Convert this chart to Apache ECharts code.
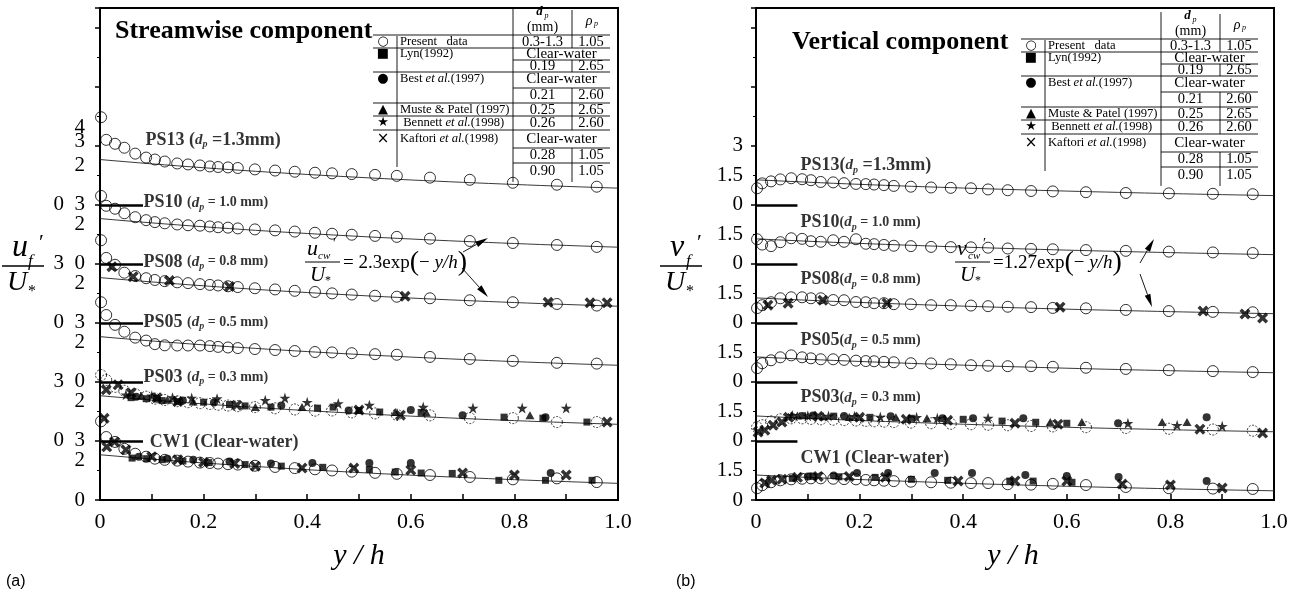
<!DOCTYPE html>
<html>
<head>
<meta charset="utf-8">
<script src="https://cdn.jsdelivr.net/npm/echarts@6/dist/echarts.min.js"></script>
<style>
html,body{margin:0;padding:0;background:#fff}
#c{width:1299px;height:594px}
</style>
</head>
<body>
<div id="c"></div>
<script>
// ---------------- data ----------------
// measurement positions of the present data (y/h)
const yh = [0.002,0.012,0.029,0.047,0.068,0.089,0.106,0.125,0.149,0.170,0.193,0.212,0.228,0.247,0.266,0.299,0.338,0.376,0.415,0.448,0.486,0.531,0.573,0.637,0.714,0.797,0.882,0.959];

// profiles, bottom to top, and the vertical shift each one is drawn with
const profiles = ['CW1','PS03','PS05','PS08','PS10','PS13'];
const profileOffset = [0,3,6,9,12,15];

// streamwise turbulence intensity u_f'/U* (present data)
const uCW1  = [4.00,3.20,2.95,2.60,2.35,2.20,2.10,2.04,2.00,1.95,1.90,1.88,1.85,1.82,1.80,1.74,1.68,1.62,1.56,1.50,1.44,1.38,1.33,1.27,1.17,1.05,1.10,0.91];
const uPS03 = [3.35,3.10,2.75,2.55,2.38,2.25,2.15,2.08,2.02,1.97,1.92,1.88,1.84,1.80,1.77,1.72,1.66,1.60,1.54,1.55,1.45,1.40,1.33,1.30,1.16,1.16,0.96,0.96];
const uPS05 = [4.05,3.40,2.90,2.55,2.25,2.10,1.92,1.86,1.85,1.85,1.85,1.82,1.78,1.75,1.72,1.67,1.62,1.57,1.52,1.50,1.46,1.41,1.38,1.27,1.17,1.07,0.97,0.93];
const uPS08 = [4.20,3.30,2.95,2.55,2.38,2.27,2.18,2.12,2.06,2.02,1.97,1.93,1.90,1.86,1.82,1.76,1.70,1.63,1.57,1.50,1.44,1.38,1.33,1.25,1.15,1.05,0.96,0.88];
const uPS10 = [3.45,2.95,2.80,2.57,2.37,2.22,2.12,2.06,2.00,1.96,1.94,1.90,1.86,1.84,1.80,1.75,1.70,1.64,1.58,1.53,1.48,1.42,1.37,1.28,1.16,1.06,0.96,0.86];
const uPS13 = [4.45,3.30,3.10,2.90,2.60,2.40,2.30,2.20,2.10,2.05,2.00,1.95,1.92,1.90,1.87,1.80,1.74,1.68,1.63,1.60,1.56,1.52,1.47,1.38,1.27,1.12,1.02,0.92];

// streamwise, other data sets: [y/h, u'/U*]
const uCW1Lyn      = [[0.062,2.13],[0.09,2.10],[0.12,2.05],[0.16,1.98],[0.21,1.90],[0.28,1.80],[0.35,1.72],[0.43,1.66],[0.52,1.55],[0.57,1.42],[0.62,1.37],[0.68,1.35],[0.77,1.00],[0.86,1.00],[0.95,1.00]];
const uCW1Best     = [[0.075,2.20],[0.13,2.10],[0.18,2.05],[0.25,1.95],[0.33,1.85],[0.41,1.88],[0.52,1.88],[0.60,1.88],[0.87,1.37]];
const uCW1Kaftori  = [[0.008,4.15],[0.013,2.70],[0.028,2.95],[0.05,2.55],[0.10,2.20],[0.15,2.05],[0.20,1.92],[0.26,1.85],[0.30,1.72],[0.39,1.62],[0.49,1.62],[0.60,1.52],[0.70,1.37],[0.80,1.27],[0.90,1.27]];
const uPS03Lyn     = [[0.06,2.20],[0.09,2.15],[0.12,2.05],[0.15,2.00],[0.20,1.97],[0.25,1.85],[0.28,1.78],[0.33,1.72],[0.42,1.67],[0.45,1.72],[0.50,1.55],[0.54,1.47],[0.62,1.45],[0.78,1.21],[0.855,1.16],[0.94,0.96]];
const uPS03Best    = [[0.07,2.25],[0.11,2.15],[0.16,2.05],[0.22,1.95],[0.35,1.80],[0.48,1.55],[0.60,1.57],[0.70,1.31],[0.86,1.20]];
const uPS03Muste   = [[0.08,2.30],[0.13,2.10],[0.18,2.00],[0.30,1.72],[0.39,1.72],[0.57,1.47],[0.63,1.45],[0.83,1.31]];
const uPS03Bennett = [[0.05,2.35],[0.10,2.30],[0.14,2.20],[0.177,2.18],[0.226,2.15],[0.319,2.07],[0.357,2.18],[0.40,1.97],[0.46,1.90],[0.52,1.82],[0.624,1.72],[0.72,1.67],[0.815,1.67],[0.90,1.67]];
const uPS03Kaftori = [[0.012,2.60],[0.035,2.85],[0.06,2.45],[0.11,2.20],[0.15,2.00],[0.264,1.82],[0.50,1.57],[0.58,1.31],[0.979,0.96]];
const uPS08Kaftori = [[0.023,2.85],[0.064,2.35],[0.134,2.15],[0.25,1.85],[0.589,1.35],[0.865,1.05],[0.946,1.02],[0.979,1.02]];

// vertical turbulence intensity v_f'/U* (present data)
const vCW1  = [0.60,0.75,0.90,1.00,1.05,1.08,1.10,1.10,1.08,1.06,1.05,1.02,1.00,0.98,0.96,0.93,0.90,0.88,0.86,0.86,0.80,0.78,0.82,0.76,0.66,0.60,0.58,0.56];
const vPS03 = [0.70,0.80,1.00,1.10,1.15,1.15,1.12,1.10,1.08,1.06,1.04,1.02,1.00,0.98,0.96,0.93,0.90,0.87,0.85,0.82,0.80,0.76,0.74,0.70,0.66,0.62,0.58,0.52];
const vPS05 = [0.70,0.95,1.10,1.25,1.35,1.25,1.20,1.15,1.15,1.12,1.08,1.06,1.05,1.02,1.00,0.95,0.94,0.90,0.85,0.82,0.80,0.80,0.77,0.72,0.66,0.60,0.55,0.50];
const vPS08 = [0.75,0.90,1.05,1.25,1.30,1.30,1.25,1.25,1.16,1.15,1.06,1.05,1.00,1.00,0.95,0.95,0.90,0.90,0.88,0.85,0.82,0.80,0.76,0.74,0.66,0.60,0.56,0.54];
const vPS10 = [1.25,0.98,0.90,1.10,1.30,1.27,1.15,1.12,1.20,1.12,1.25,1.02,1.00,0.96,0.92,0.90,0.86,0.85,0.84,0.82,0.78,0.76,0.74,0.70,0.66,0.62,0.58,0.55];
const vPS13 = [0.84,1.09,1.19,1.29,1.35,1.30,1.25,1.16,1.14,1.10,1.06,1.05,1.03,1.00,0.96,0.92,0.88,0.86,0.84,0.78,0.74,0.70,0.68,0.64,0.60,0.58,0.56,0.54];

// vertical, other data sets: [y/h, v'/U*]
const vCW1Lyn      = [[0.07,1.10],[0.11,1.20],[0.16,1.18],[0.23,1.15],[0.30,1.05],[0.37,1.00],[0.49,0.96],[0.535,0.96],[0.61,0.90]];
const vCW1Best     = [[0.10,1.20],[0.15,1.25],[0.195,1.37],[0.255,1.37],[0.345,1.37],[0.417,1.37],[0.52,1.27],[0.60,1.22],[0.70,1.17],[0.87,0.96]];
const vCW1Kaftori  = [[0.017,0.86],[0.03,1.00],[0.05,1.05],[0.08,1.15],[0.12,1.20],[0.18,1.20],[0.25,1.15],[0.39,0.96],[0.50,0.97],[0.60,0.96],[0.707,0.81],[0.80,0.76],[0.90,0.61]];
const vPS03Lyn     = [[0.09,1.28],[0.15,1.26],[0.22,1.20],[0.30,1.15],[0.40,1.10],[0.475,1.01],[0.54,0.95],[0.60,0.90]];
const vPS03Best    = [[0.11,1.30],[0.17,1.27],[0.26,1.25],[0.36,1.15],[0.419,1.16],[0.516,1.16],[0.699,0.90],[0.87,1.20]];
const vPS03Muste   = [[0.08,1.30],[0.13,1.25],[0.18,1.22],[0.27,1.20],[0.33,1.15],[0.568,0.96],[0.629,0.96],[0.784,0.96],[0.832,0.96]];
const vPS03Bennett = [[0.07,1.30],[0.10,1.28],[0.14,1.27],[0.19,1.25],[0.24,1.22],[0.31,1.20],[0.35,1.15],[0.448,1.16],[0.718,0.90],[0.813,0.80],[0.90,0.75]];
const vPS03Kaftori = [[0.004,0.45],[0.017,0.55],[0.033,0.80],[0.05,0.96],[0.063,1.20],[0.12,1.25],[0.20,1.20],[0.29,1.10],[0.37,1.05],[0.50,0.90],[0.583,0.85],[0.857,0.60],[0.978,0.40]];
const vPS08Kaftori = [[0.023,0.90],[0.062,1.00],[0.129,1.15],[0.253,1.00],[0.587,0.80],[0.863,0.60],[0.944,0.45],[0.978,0.25]];

// fitted curves: u_cw'/U* = 2.3 exp(-y/h), v_cw'/U* = 1.27 exp(-y/h)
const fitCoefU = 2.3;
const fitCoefV = 1.27;

// y-axis tick labels (stacked profiles share one axis)
const yTickA = [0,2,3,5,6,8,9,11,12,14,15,17,18.55];
const yTickTextA = ['0','2','0\u20023','2','3\u20020','2','0\u20023','2','3\u20020','2','0\u20023','2','4\n3'];
const yTickB = [0,1.5,3,4.5,6,7.5,9,10.5,12,13.5,15,16.5,18];
const yTickTextB = ['0','1.5','0','1.5','0','1.5','0','1.5','0','1.5','0','1.5','3'];

// zero lines of the shifted profiles
const leaderLevels = [3,6,9,12,15];

// ---------------- styles & helpers ----------------
const SERIF = '"Liberation Serif","Times New Roman",serif';
const SANS = '"Liberation Sans",Arial,sans-serif';
const SYMF = '"DejaVu Sans",sans-serif';

const SYM = {
  lyn: 'rect',
  best: 'circle',
  muste: 'triangle',
  bennett: 'path://M5,0L6.18,3.62L10,3.62L6.91,5.86L8.09,9.5L5,7.26L1.91,9.5L3.09,5.86L0,3.62L3.82,3.62Z',
  kaftori: 'path://M2.2,0L5,2.8L7.8,0L10,2.2L7.2,5L10,7.8L7.8,10L5,7.2L2.2,10L0,7.8L2.8,5L0,2.2Z'
};
const SYMSIZE = {lyn: 7, best: 8, muste: [9, 8], bennett: 11, kaftori: 11};

const fitXs = [];
for (let i = 0; i <= 40; i++) fitXs.push(i / 40);

const labRich = {
  ps:  {fontFamily: SERIF, fontSize: 18, fontWeight: 'bold', color: '#000'},
  sm:  {fontFamily: SERIF, fontSize: 14, fontWeight: 'bold', color: '#000'},
  it:  {fontFamily: SERIF, fontSize: 15, fontWeight: 'bold', fontStyle: 'italic', color: '#000'},
  sub: {fontFamily: SERIF, fontSize: 10, fontWeight: 'bold', fontStyle: 'italic', color: '#000', padding: [9, 0, 0, 0]}
};

const profileLabelsA = [
  '{ps|PS13 (}{it|d}{sub|p}{ps| =1.3mm)}',
  '{ps|PS10 }{sm|(}{it|d}{sub|p}{sm| = 1.0 mm)}',
  '{ps|PS08 }{sm|(}{it|d}{sub|p}{sm| = 0.8 mm)}',
  '{ps|PS05 }{sm|(}{it|d}{sub|p}{sm| = 0.5 mm)}',
  '{ps|PS03 }{sm|(}{it|d}{sub|p}{sm| = 0.3 mm)}',
  '{ps|CW1 (Clear-water)}'
];
const profileLabelsB = [
  '{ps|PS13(}{it|d}{sub|p}{ps| =1.3mm)}',
  '{ps|PS10}{sm|(}{it|d}{sub|p}{sm| = 1.0 mm)}',
  '{ps|PS08}{sm|(}{it|d}{sub|p}{sm| = 0.8 mm)}',
  '{ps|PS05}{sm|(}{it|d}{sub|p}{sm| = 0.5 mm)}',
  '{ps|PS03}{sm|(}{it|d}{sub|p}{sm| = 0.3 mm)}',
  '{ps|CW1 (Clear-water)}'
];
const labelAnchorA = [[0.087,18.3],[0.083,15.1],[0.083,12.1],[0.083,9.05],[0.083,6.25],[0.095,2.95]];
const labelAnchorB = [[0.085,17.0],[0.085,14.1],[0.085,11.2],[0.085,8.1],[0.085,5.2],[0.085,2.1]];

function offsetOf(name) { return profileOffset[profiles.indexOf(name)]; }

function panelSeries(gi, present, coef, extras, labels, anchors, leaderLen) {
  const s = [];
  profiles.forEach((name, k) => {
    const off = profileOffset[k];
    s.push({
      type: 'line', xAxisIndex: gi, yAxisIndex: gi, showSymbol: false, silent: true, z: 2,
      lineStyle: {color: '#222', width: 0.9},
      data: fitXs.map(x => [x, off + coef * Math.exp(-x)])
    });
    s.push({
      type: 'scatter', xAxisIndex: gi, yAxisIndex: gi, silent: true, z: 3,
      symbol: 'circle', symbolSize: 11,
      itemStyle: {color: 'rgba(255,255,255,0)', borderColor: '#000', borderWidth: 1,
        borderType: name === 'PS03' ? [2, 1.5] : 'solid'},
      data: yh.map((x, i) => [x, off + present[k][i]])
    });
  });
  extras.forEach(e => {
    const off = offsetOf(e.profile);
    s.push({
      type: 'scatter', xAxisIndex: gi, yAxisIndex: gi, silent: true, z: 4,
      symbol: SYM[e.src], symbolSize: SYMSIZE[e.src],
      itemStyle: {color: '#000'},
      data: e.pts.map(p => [p[0], off + p[1]])
    });
  });
  s.push({
    type: 'lines', coordinateSystem: 'cartesian2d', xAxisIndex: gi, yAxisIndex: gi, silent: true, z: 4,
    lineStyle: {color: '#000', width: 2.5, opacity: 1},
    data: leaderLevels.map(v => ({coords: [[0, v], [leaderLen, v]]}))
  });
  s.push({
    type: 'scatter', xAxisIndex: gi, yAxisIndex: gi, silent: true, z: 6,
    symbolSize: 1, itemStyle: {color: 'rgba(0,0,0,0)'},
    label: {show: true, position: 'right', distance: 0, rich: labRich},
    data: labels.map((t, i) => ({value: anchors[i], label: {formatter: t}}))
  });
  return s;
}

function xAxisCfg(gi) {
  return {
    gridIndex: gi, type: 'value', min: 0, max: 1, interval: 0.2,
    axisLine: {onZero: false, lineStyle: {color: '#000', width: 2}},
    axisTick: {inside: true, length: 6, lineStyle: {color: '#000', width: 1.5}},
    minorTick: {show: true, splitNumber: 2, length: 6, lineStyle: {color: '#000', width: 1.5}},
    splitLine: {show: false}, minorSplitLine: {show: false},
    axisLabel: {fontFamily: SERIF, fontSize: 22, color: '#000', margin: 11,
      formatter: v => (v === 0 ? '0' : v.toFixed(1))}
  };
}
function yAxisCfg(gi, vals, texts, margin) {
  return {
    gridIndex: gi, type: 'value', min: 0, max: 25, interval: 3,
    axisLine: {onZero: false, lineStyle: {color: '#000', width: 2}},
    axisTick: {inside: false, length: 5, lineStyle: {color: '#000', width: 1.5}},
    minorTick: {show: true, splitNumber: 2, length: 3, lineStyle: {color: '#000', width: 1}},
    splitLine: {show: false}, minorSplitLine: {show: false},
    axisLabel: {customValues: vals, hideOverlap: false, fontFamily: SERIF, fontSize: 21, lineHeight: 14,
      color: '#000', margin: margin,
      formatter: v => {
        const i = vals.findIndex(t => Math.abs(t - v) < 1e-6);
        return i >= 0 ? texts[i] : '';
      }}
  };
}

// ---------- graphic helpers (titles, annotation, data table) ----------
function T(x, y, text, size, extra) {
  return {type: 'text', x: x, y: y, silent: true, z: 10,
    style: Object.assign({text: text, fill: '#000', fontFamily: SERIF, fontSize: size,
      align: 'left', verticalAlign: 'middle'}, extra || {})};
}
function L(x1, y1, x2, y2, w) {
  return {type: 'line', silent: true, z: 10, shape: {x1: x1, y1: y1, x2: x2, y2: y2},
    style: {stroke: '#000', lineWidth: w || 1}};
}
function arrow(x1, y1, x2, y2) {
  const a = Math.atan2(y2 - y1, x2 - x1), len = 13, hw = 3;
  const bx = x2 - len * Math.cos(a), by = y2 - len * Math.sin(a);
  const nx = -Math.sin(a) * hw, ny = Math.cos(a) * hw;
  return [L(x1, y1, bx, by, 0.9),
    {type: 'polygon', silent: true, z: 10,
     shape: {points: [[x2, y2], [bx + nx, by + ny], [bx - nx, by - ny]]},
     style: {fill: '#000'}}];
}

const tableRich = {
  n: {fontFamily: SERIF, fontSize: 12.6, fill: '#000'},
  i: {fontFamily: SERIF, fontSize: 12.6, fontStyle: 'italic', fill: '#000'}
};
const tableRows = [
  {sym: '\u25CB', name: '{n|Present   data}', y: 42, dp: '0.3-1.3', rho: '1.05'},
  {sym: '\u25A0', name: '{n|Lyn(1992)}', y: 54, cw: true},
  {y: 66, dp: '0.19', rho: '2.65'},
  {sym: '\u25CF', name: '{n|Best }{i|et al.}{n|(1997)}', y: 79, cw: true},
  {y: 95, dp: '0.21', rho: '2.60'},
  {sym: '\u25B2', name: '{n|Muste & Patel (1997)}', y: 110, dp: '0.25', rho: '2.65'},
  {sym: '\u2605', name: '{n| Bennett }{i|et al.}{n|(1998)}', y: 123, dp: '0.26', rho: '2.60'},
  {sym: '\u00D7', name: '{n|Kaftori }{i|et al.}{n|(1998)}', y: 139, cw: true},
  {y: 155, dp: '0.28', rho: '1.05'},
  {y: 171, dp: '0.90', rho: '1.05'}
];

function table(dx, dy) {
  const Lx = 373 + dx, R = 610 + dx, c1 = 397 + dx, c2 = 513 + dx, c3 = 572 + dx;
  const dpX = (c2 + c3) / 2, rhoX = (c3 + R) / 2, cwX = (c2 + R) / 2;
  const els = [];
  [[35, Lx], [48, Lx], [60, c2], [72, Lx], [88, c2], [103, Lx], [116, Lx], [130, Lx], [148, c2], [163, c2]]
    .forEach(h => els.push(L(h[1], h[0] + dy, R, h[0] + dy, 0.9)));
  els.push(L(c1, 36 + dy, c1, 167 + dy, 0.9));
  els.push(L(c2, 8 + dy, c2, 182 + dy, 0.9));
  [[10, 48], [60, 72], [88, 130], [148, 182]].forEach(v => els.push(L(c3, v[0] + dy, c3, v[1] + dy, 0.9)));
  // header
  els.push(T(dpX - 3, 12 + dy, 'd', 13, {fontStyle: 'italic', fontWeight: 'bold', align: 'center'}));
  els.push(T(dpX + 2, 16 + dy, 'p', 8, {fontStyle: 'italic', align: 'left'}));
  els.push(T(dpX, 27 + dy, '(mm)', 14, {align: 'center'}));
  els.push(T(rhoX - 2, 21 + dy, '\u03C1', 14, {fontStyle: 'italic', align: 'center'}));
  els.push(T(rhoX + 3, 24 + dy, 'p', 8, {fontStyle: 'italic', align: 'left'}));
  tableRows.forEach(r => {
    const y = r.y + dy;
    if (r.sym) els.push(T(Lx + 10, y, r.sym, r.sym === '\u00D7' ? 15 : 13, {fontFamily: SYMF, align: 'center'}));
    if (r.name) els.push({type: 'text', x: c1 + 3, y: y, silent: true, z: 10,
      style: {text: r.name, rich: tableRich, align: 'left', verticalAlign: 'middle', fill: '#000'}});
    if (r.cw) els.push(T(cwX, y, 'Clear-water', 15, {align: 'center'}));
    if (r.dp) els.push(T(dpX, y, r.dp, 14.5, {align: 'center'}));
    if (r.rho) els.push(T(rhoX, y, r.rho, 14.5, {align: 'center'}));
  });
  return els;
}

function yTitle(x, sym) {
  return [
    T(x, 248, sym, 32, {fontStyle: 'italic'}),
    T(x + 16, 262, 'f', 17, {fontStyle: 'italic'}),
    T(x + 27, 243, '\u2032', 22),
    L(x - 10, 266, x + 32, 266, 1.5),
    T(x - 5, 283, 'U', 28, {fontStyle: 'italic'}),
    T(x + 16, 292, '*', 16)
  ];
}

function formula(x, sym, rest) {
  return [
    T(x + 2, 249, sym, 22, {fontStyle: 'italic'}),
    T(x + 13, 256, 'cw', 11, {fontStyle: 'italic'}),
    T(x + 28, 244, '\u2032', 14),
    L(x, 262, x + 35, 262, 1.2),
    T(x + 5, 275, 'U', 21, {fontStyle: 'italic'}),
    T(x + 20, 281, '*', 12),
    {type: 'text', x: x + 38, y: 263, silent: true, z: 10,
     style: {text: rest, align: 'left', verticalAlign: 'middle', fill: '#000',
       rich: {
         t: {fontFamily: SERIF, fontSize: 19},
         b: {fontFamily: SERIF, fontSize: 28},
         i: {fontFamily: SERIF, fontSize: 19, fontStyle: 'italic'}
       }}}
  ];
}

const graphics = [].concat(
  [T(115, 31, 'Streamwise component', 26, {fontWeight: 'bold'}),
   T(792, 42, 'Vertical component', 26, {fontWeight: 'bold'})],
  table(0, 0),
  table(648, 4),
  yTitle(12, 'u'),
  yTitle(670, 'v'),
  formula(305, 'u', '{t|= 2.3exp}{b|(}{t|\u2212 }{i|y/h}{b|)}'),
  formula(955, 'v', '{t|=1.27exp}{b|(}{t|\u2212 }{i|y/h}{b|)}'),
  arrow(463, 252, 488, 238),
  arrow(462, 268, 488, 297),
  arrow(1140, 263, 1154, 239),
  arrow(1140, 274, 1152, 307),
  [T(359, 556, 'y / h', 30, {fontStyle: 'italic', align: 'center'}),
   T(1013, 556, 'y / h', 30, {fontStyle: 'italic', align: 'center'}),
   T(6, 582, '(a)', 16, {fontFamily: SANS}),
   T(676, 582, '(b)', 16, {fontFamily: SANS})]
);

const presentU = [uCW1, uPS03, uPS05, uPS08, uPS10, uPS13];
const presentV = [vCW1, vPS03, vPS05, vPS08, vPS10, vPS13];

const extrasU = [
  {profile: 'CW1', src: 'lyn', pts: uCW1Lyn},
  {profile: 'CW1', src: 'best', pts: uCW1Best},
  {profile: 'CW1', src: 'kaftori', pts: uCW1Kaftori},
  {profile: 'PS03', src: 'lyn', pts: uPS03Lyn},
  {profile: 'PS03', src: 'best', pts: uPS03Best},
  {profile: 'PS03', src: 'muste', pts: uPS03Muste},
  {profile: 'PS03', src: 'bennett', pts: uPS03Bennett},
  {profile: 'PS03', src: 'kaftori', pts: uPS03Kaftori},
  {profile: 'PS08', src: 'kaftori', pts: uPS08Kaftori}
];
const extrasV = [
  {profile: 'CW1', src: 'lyn', pts: vCW1Lyn},
  {profile: 'CW1', src: 'best', pts: vCW1Best},
  {profile: 'CW1', src: 'kaftori', pts: vCW1Kaftori},
  {profile: 'PS03', src: 'lyn', pts: vPS03Lyn},
  {profile: 'PS03', src: 'best', pts: vPS03Best},
  {profile: 'PS03', src: 'muste', pts: vPS03Muste},
  {profile: 'PS03', src: 'bennett', pts: vPS03Bennett},
  {profile: 'PS03', src: 'kaftori', pts: vPS03Kaftori},
  {profile: 'PS08', src: 'kaftori', pts: vPS08Kaftori}
];

const chart = echarts.init(document.getElementById('c'));
chart.setOption({
  animation: false,
  backgroundColor: '#fff',
  grid: [
    {left: 100, top: 8, width: 518, height: 492, show: true, borderColor: '#000', borderWidth: 2, backgroundColor: 'transparent'},
    {left: 756, top: 8, width: 518, height: 492, show: true, borderColor: '#000', borderWidth: 2, backgroundColor: 'transparent'}
  ],
  xAxis: [xAxisCfg(0), xAxisCfg(1)],
  yAxis: [yAxisCfg(0, yTickA, yTickTextA, 15), yAxisCfg(1, yTickB, yTickTextB, 13)],
  series: [].concat(
    panelSeries(0, presentU, fitCoefU, extrasU, profileLabelsA.slice().reverse(), labelAnchorA.slice().reverse(), 0.083),
    panelSeries(1, presentV, fitCoefV, extrasV, profileLabelsB.slice().reverse(), labelAnchorB.slice().reverse(), 0.08)
  ),
  graphic: graphics
});
</script>
</body>
</html>
